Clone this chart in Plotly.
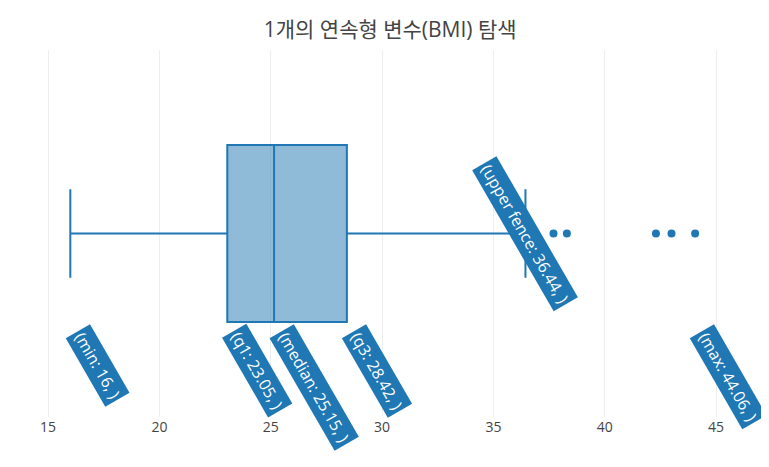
import plotly.graph_objects as go

title_text = "1개의 연속형 변수(BMI) 탐색"
stat_names = ["min", "q1", "median", "q3", "upper fence", "max"]
stat_values = [16, 23.05, 25.15, 28.42, 36.44, 44.06]
q1 = [23.05]
median = [25.15]
q3 = [28.42]
lowerfence = [16]
upperfence = [36.44]
outliers = [37.7, 38.3, 42.3, 43.0, 44.06]
x_ticks = [15, 20, 25, 30, 35, 40, 45]

blue = "#1f77b4"
FONT = "Open Sans, Noto Sans CJK KR"

fig = go.Figure()
fig.add_trace(go.Box(
    y=[0], q1=q1, median=median, q3=q3,
    lowerfence=lowerfence, upperfence=upperfence,
    orientation="h", width=0.482, whiskerwidth=0.5,
    marker_color=blue, line=dict(color=blue, width=2),
    fillcolor="rgba(31,119,180,0.5)", boxpoints=False,
    hoverinfo="skip", name="BMI",
))
fig.add_trace(go.Scatter(
    x=outliers, y=[0] * len(outliers), mode="markers",
    marker=dict(color=blue, size=8), hoverinfo="skip", showlegend=False,
))

for name, val in zip(stat_names, stat_values):
    side = name == "upper fence"
    fig.add_annotation(
        x=val, xref="x",
        y=0 if side else -0.266, yref="y",
        xshift=0 if side else -5,
        yshift=0 if side else 7,
        text=f"({name}: {val:g}, )", showarrow=False, textangle=60,
        font=dict(color="white", size=16, family=FONT),
        bgcolor=blue, borderpad=3, borderwidth=0,
        xanchor="center" if side else "left",
        yanchor="middle" if side else "top",
    )

fig.update_layout(
    width=769, height=467,
    template="plotly_white",
    title=dict(text=title_text, x=0.497, xanchor="center", y=0.953, yanchor="middle",
               font=dict(size=21, color="#444", family=FONT)),
    font=dict(family=FONT, color="#444"),
    margin=dict(l=12, r=28, t=42, b=58),
    showlegend=False,
    xaxis=dict(range=[13.74, 46.48], tickvals=x_ticks, showgrid=True,
               gridcolor="#eee", zeroline=False, showline=False,
               tickfont=dict(size=14)),
    yaxis=dict(range=[-0.5, 0.5], showticklabels=False, showgrid=False,
               zeroline=False),
    plot_bgcolor="white", paper_bgcolor="white",
)

fig.write_html("out.html")
